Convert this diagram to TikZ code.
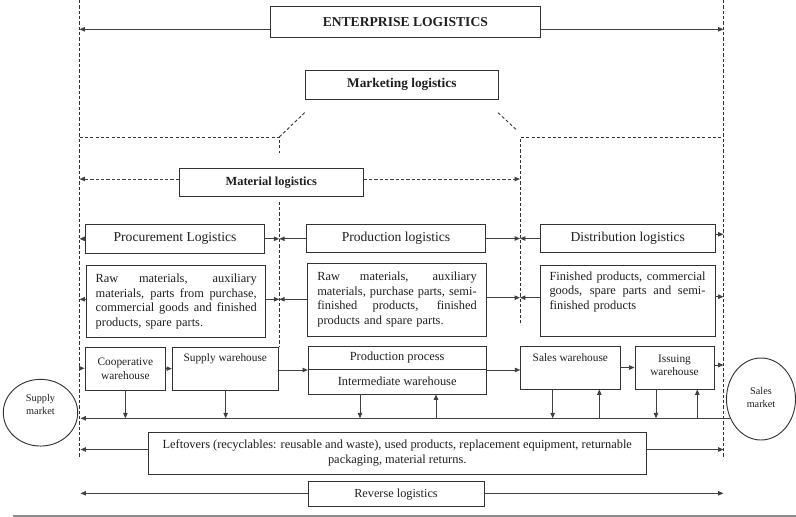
\documentclass[tikz,border=0pt]{standalone}
\usepackage{fontspec}
\setmainfont{Liberation Serif}
\usetikzlibrary{arrows.meta,calc,shapes.geometric}

% justified line of fixed width inside a description box
\newcommand{\jline}[1]{\makebox[\hsize][s]{\spaceskip=0pt\xspaceskip=0pt\relax #1}}

\begin{document}
\begin{tikzpicture}[x=0.75pt,y=-0.75pt,
  box/.style 2 args={draw=black!80, line width=0.7pt, minimum width=#1*0.75pt,
    minimum height=#2*0.75pt, inner sep=0pt, text=black!88, align=center},
  head/.style={font=\bfseries\fontsize{10.2}{12}\selectfont},
  lab/.style={font=\fontsize{10.2}{12}\selectfont},
  desc/.style={font=\fontsize{9.3}{11}\selectfont, align=left, text=black!88},
  small/.style={font=\fontsize{8.5}{10}\selectfont, align=center, text=black!88},
  mid/.style={font=\fontsize{9.3}{11}\selectfont},
  mkttext/.style={font=\fontsize{7.7}{9.6}\selectfont, align=center, text=black!88},
  market/.style 2 args={ellipse, draw=black!80, line width=0.7pt, minimum width=#1*0.75pt,
    minimum height=#2*0.75pt, inner sep=0pt},
  arr/.style={draw=black!75, line width=0.7pt, -{Triangle[length=4pt,width=3.3pt]}},
  darr/.style={arr, dash pattern=on 2.4pt off 1.6pt},
  frame/.style={draw=black!80, line width=0.65pt, dash pattern=on 2.4pt off 1.6pt}]

\useasboundingbox (0,0) rectangle (796,517);

% dashed borders of the logistics areas
\draw[frame] (79.5,0) -- (79.5,457);
\draw[frame] (723.5,0) -- (723.5,457);
\draw[frame] (79.5,137) -- (279.3,137) -- (279.3,153.3);
\draw[frame] (279.3,137) -- (305.7,111.7);
\draw[frame] (279.3,201.7) -- (279.3,346);
\draw[frame] (498,112.7) -- (516.7,130);
\draw[frame] (520,323.3) -- (520,137.5) -- (723.5,137.5);

% free ends of the connectors
\coordinate (eL) at (79.5,29.3);   \coordinate (eR) at (723.5,29.3);
\coordinate (mL) at (79.5,179);    \coordinate (mR) at (520,179);
\coordinate (pL) at (79.5,238.8);  \coordinate (pM) at (279.3,238.8);
\coordinate (pR) at (520,238.5);   \coordinate (dRr) at (723.5,234.3);
\coordinate (t1L) at (79.5,299.3); \coordinate (tM) at (279.3,299.3);
\coordinate (tM2) at (520,297.7);  \coordinate (t3R) at (723.5,296.7);
\coordinate (cIn) at (79.5,368.3); \coordinate (iOut) at (723.5,365);
\coordinate (railL) at (80.5,418.3);
\coordinate (d1) at (125.4,418.3); \coordinate (d2) at (225.7,418.3);
\coordinate (d3) at (360,418.3);   \coordinate (d4) at (552.7,418.3);
\coordinate (d5) at (656,418.3);
\coordinate (u1) at (436,418.3);   \coordinate (u2) at (599.3,418.3);
\coordinate (u3) at (697.3,418.3);
\coordinate (lvL) at (80.5,449.5); \coordinate (lvR) at (723.5,449.5);
\coordinate (rvL) at (80.5,493.3); \coordinate (rvR) at (723.5,493.3);

% headings
\node[box={269.3}{30.6}, head] (ent) at (405.35,22) {ENTERPRISE LOGISTICS};
\node[box={192.3}{29.3}, font=\bfseries\fontsize{10}{12}\selectfont] (mkt) at (401.85,84.65) {Marketing logistics};
\node[box={184}{27.7}, font=\bfseries\fontsize{9.3}{11}\selectfont] (mat) at (271.3,182.15) {Material logistics};

\node[box={178.6}{29}, lab] (proc) at (175,238.8) {Procurement Logistics};
\node[box={178.6}{28.4}, lab] (prod) at (396,238.5) {Production logistics};
\node[box={174.5}{28.5}, lab] (dist) at (627.75,238.45) {Distribution logistics};

% material groups
\node[box={179}{71.6}, desc, text width=120.75pt] (txt1) at (176.2,301.5)
  {\jline{Raw materials, auxiliary}\\
   \jline{materials, parts from purchase,}\\
   \jline{commercial goods and finished}\\
   products, spare parts.};
\node[box={178.6}{72.7}, desc, text width=119.55pt] (txt2) at (397,299.65)
  {\jline{Raw materials, auxiliary}\\
   \jline{materials, purchase parts, semi-}\\
   \jline{finished products, finished}\\
   products and spare parts.};
\node[box={175}{71}] (txt3) at (627.5,300.5) {};
\node[desc, text width=117pt, inner sep=0pt] at ($(txt3.north)+(0,27.3)$)
  {\jline{Finished products, commercial}\\
   \jline{goods, spare parts and semi-}\\
   finished products};

% warehouses and processes
\node[box={80.7}{42.7}, small] (coop) at (125.35,368.65) {Cooperative\\warehouse};
\node[box={106}{42.7}] (supw) at (225.3,368.65) {};
\node[small] at ($(supw.north)+(0,12)$) {Supply warehouse};
\node[box={177.7}{23.5}, mid] (prodA) at (397.15,357.75) {Production process};
\node[box={177.7}{24.5}, mid] (prodB) at (397.15,381.75) {Intermediate warehouse};
\node[box={99.3}{43}] (sales) at (570.35,367.5) {};
\node[small] at ($(sales.north)+(0,12.3)$) {Sales warehouse};
\node[box={79}{43}] (issu) at (674.5,367.5) {};
\node[small] at ($(issu.north)+(0,19.7)$) {Issuing\\warehouse};

% markets
\node[market={74.4}{66.7}] (supm) at (40.5,412.7) {};
\node[mkttext] at ($(supm.center)+(0,-8.5)$) {Supply\\market};
\node[market={69}{82}] (salm) at (761,399) {};
\node[mkttext] at ($(salm.center)+(0,-1.5)$) {Sales\\market};

% reverse flow
\node[box={497.9}{42}, font=\fontsize{9.3}{11}\selectfont] (lovr) at (397.25,453.3)
  {Leftovers (recyclables: reusable and waste), used products, replacement equipment, returnable\\packaging, material returns.};
\node[box={176}{25}, font=\fontsize{9.2}{11}\selectfont] (rev) at (396,494.2) {Reverse logistics};

% connectors of the headings
\draw[arr] (ent.west |- eL) -- (eL);
\draw[arr] (ent.east |- eR) -- (eR);
\draw[darr] (mat.west |- mL) -- (mL);
\draw[darr] (mat.east |- mR) -- (mR);
\draw[arr] (proc.west |- pL) -- (pL);
\draw[arr] (proc.east |- pM) -- (pM);
\draw[arr] (prod.west |- pM) -- (pM);
\draw[arr] (prod.east |- pR) -- (pR);
\draw[arr] (dist.west |- pR) -- (pR);
\draw[arr] (dist.east |- dRr) -- (dRr);

\draw[arr] (txt1.west |- t1L) -- (t1L);
\draw[arr] (txt1.east |- tM) -- (tM);
\draw[arr] (txt2.west |- tM) -- (tM);
\draw[arr] (txt2.east |- tM2) -- (tM2);
\draw[arr] (txt3.west |- tM2) -- (tM2);
\draw[arr] (txt3.east |- t3R) -- (t3R);

% material flow
\draw[arr] (cIn) -- (coop.west |- cIn);
\draw[arr] (coop.east) -- (supw.west);
\draw[arr] (supw.east |- prodA.south) -- (prodA.south west);
\draw[arr] (prodA.south east) -- (sales.west |- prodA.south east);
\draw[arr] (sales.east) -- (issu.west);
\draw[arr] (issu.east |- iOut) -- (iOut);

% return rail from the sales market
\draw[arr] (salm.212 |- railL) -- (railL);
\draw[arr] (coop.south -| d1) -- (d1);
\draw[arr] (supw.south -| d2) -- (d2);
\draw[arr] (prodB.south -| d3) -- (d3);
\draw[arr] (sales.south -| d4) -- (d4);
\draw[arr] (issu.south -| d5) -- (d5);
\draw[arr] (u1) -- (u1 |- prodB.south);
\draw[arr] (u2) -- (u2 |- sales.south);
\draw[arr] (u3) -- (u3 |- issu.south);

\draw[arr] (lovr.west |- lvL) -- (lvL);
\draw[arr] (lovr.east |- lvR) -- (lvR);
\draw[arr] (rev.west |- rvL) -- (rvL);
\draw[arr] (rev.east |- rvR) -- (rvR);

% rule under the figure
\draw[draw=black!45, line width=1.1pt] (12.7,515.8) -- (796,515.8);
\end{tikzpicture}
\end{document}
